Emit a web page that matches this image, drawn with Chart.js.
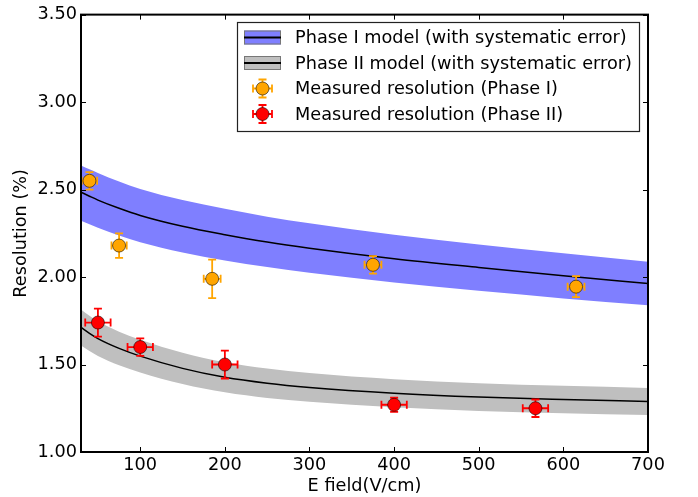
<!DOCTYPE html>
<html>
<head>
<meta charset="utf-8">
<script src="https://cdn.jsdelivr.net/npm/chart.js@4/dist/chart.umd.min.js"></script>
<style>
  html, body { margin: 0; padding: 0; background: #fff; }
  #resChart { display: block; }
</style>
</head>
<body>
<canvas id="resChart" width="698" height="497"></canvas>
<script>
// ------------------------------------------------------------
// Data
// ------------------------------------------------------------
const modelField = [30, 40, 50, 75, 100, 150, 200, 250, 300, 400, 500, 600, 700];

const phase1Model = [2.485, 2.462, 2.44, 2.393, 2.352, 2.29, 2.242, 2.20, 2.165, 2.105, 2.055, 2.008, 1.963];
const phase1Upper = [2.638, 2.616, 2.595, 2.546, 2.503, 2.44, 2.39, 2.345, 2.307, 2.242, 2.186, 2.136, 2.088];
const phase1Lower = [2.322, 2.302, 2.282, 2.238, 2.199, 2.14, 2.094, 2.057, 2.024, 1.969, 1.921, 1.878, 1.839];

const phase2Model = [1.712, 1.678, 1.648, 1.592, 1.548, 1.478, 1.427, 1.393, 1.369, 1.336, 1.314, 1.300, 1.289];
const phase2Upper = [1.815, 1.779, 1.747, 1.688, 1.641, 1.567, 1.513, 1.477, 1.451, 1.416, 1.393, 1.378, 1.366];
const phase2Lower = [1.609, 1.577, 1.549, 1.496, 1.455, 1.389, 1.341, 1.309, 1.287, 1.256, 1.235, 1.222, 1.212];

const phase1Field = [40, 75, 185, 375, 615];
const phase1Res = [2.55, 2.18, 1.99, 2.07, 1.945];
const phase1ErrRes = [0.05, 0.07, 0.11, 0.05, 0.06];
const phase1ErrField = [9, 9, 10, 10, 10];

const phase2Field = [50, 100, 200, 400, 567];
const phase2Res = [1.74, 1.60, 1.50, 1.27, 1.25];
const phase2ErrRes = [0.08, 0.05, 0.08, 0.04, 0.05];
const phase2ErrField = [15, 15, 15, 15, 15];

const xTicks = [100, 200, 300, 400, 500, 600, 700];
const yTicks = [1.0, 1.5, 2.0, 2.5, 3.0, 3.5];

const legendLabels = [
  "Phase I model (with systematic error)",
  "Phase II model (with systematic error)",
  "Measured resolution (Phase I)",
  "Measured resolution (Phase II)"
];

// ------------------------------------------------------------
// Helpers
// ------------------------------------------------------------
const FONT = "DejaVu Sans";
const FONT_SIZE = 17.7;
const BLUE_BAND = "rgb(127,127,255)";
const GREY_BAND = "rgb(191,191,191)";
const ORANGE = "#ffa500";
const RED = "#ff0000";

const toPoints = (xs, ys) => xs.map((x, i) => ({ x, y: ys[i] }));

function drawErrorBar(ctx, cx, cy, x0, x1, y0, y1, color, cap) {
  ctx.save();
  ctx.strokeStyle = color;
  ctx.lineWidth = 1.8;
  ctx.beginPath();
  // vertical bar + caps
  ctx.moveTo(cx, y0); ctx.lineTo(cx, y1);
  ctx.moveTo(cx - cap, y0); ctx.lineTo(cx + cap, y0);
  ctx.moveTo(cx - cap, y1); ctx.lineTo(cx + cap, y1);
  // horizontal bar + caps
  ctx.moveTo(x0, cy); ctx.lineTo(x1, cy);
  ctx.moveTo(x0, cy - cap); ctx.lineTo(x0, cy + cap);
  ctx.moveTo(x1, cy - cap); ctx.lineTo(x1, cy + cap);
  ctx.stroke();
  ctx.restore();
}

function drawMarker(ctx, x, y, r, fill) {
  ctx.save();
  ctx.beginPath();
  ctx.arc(x, y, r, 0, Math.PI * 2);
  ctx.fillStyle = fill;
  ctx.fill();
  ctx.lineWidth = 1;
  ctx.strokeStyle = "rgba(0,0,0,0.55)";
  ctx.stroke();
  ctx.restore();
}

// error bars for the measured points, drawn just under each marker set
const errorBarPlugin = {
  id: "errorBars",
  beforeDatasetDraw(chart, args) {
    const ds = chart.data.datasets[args.index];
    if (!ds.errX) return;
    const { ctx, chartArea } = chart;
    const xs = chart.scales.x, ys = chart.scales.y;
    ctx.save();
    ctx.beginPath();
    ctx.rect(chartArea.left, chartArea.top, chartArea.right - chartArea.left, chartArea.bottom - chartArea.top);
    ctx.clip();
    ds.data.forEach((p, i) => {
      drawErrorBar(ctx,
        xs.getPixelForValue(p.x), ys.getPixelForValue(p.y),
        xs.getPixelForValue(p.x - ds.errX[i]), xs.getPixelForValue(p.x + ds.errX[i]),
        ys.getPixelForValue(p.y + ds.errY[i]), ys.getPixelForValue(p.y - ds.errY[i]),
        ds.borderBarColor, 4);
    });
    ctx.restore();
  }
};

// box frame with inward tick marks on all four sides
const framePlugin = {
  id: "frame",
  afterDatasetsDraw(chart) {
    const { ctx, chartArea: a } = chart;
    const xs = chart.scales.x, ys = chart.scales.y;
    const tl = 5;
    ctx.save();
    ctx.strokeStyle = "#000";
    ctx.lineWidth = 1;
    ctx.beginPath();
    xTicks.forEach(v => {
      const px = Math.round(xs.getPixelForValue(v)) + 0.5;
      ctx.moveTo(px, a.bottom); ctx.lineTo(px, a.bottom - tl);
      ctx.moveTo(px, a.top); ctx.lineTo(px, a.top + tl);
    });
    yTicks.forEach(v => {
      const py = Math.round(ys.getPixelForValue(v)) + 0.5;
      ctx.moveTo(a.left, py); ctx.lineTo(a.left + tl, py);
      ctx.moveTo(a.right, py); ctx.lineTo(a.right - tl, py);
    });
    ctx.stroke();
    ctx.lineWidth = 2;
    ctx.strokeRect(a.left, a.top, a.right - a.left, a.bottom - a.top);
    ctx.restore();
  }
};

// legend box in the upper right corner
const legendPlugin = {
  id: "boxLegend",
  afterDraw(chart) {
    const ctx = chart.ctx;
    const left = 237, top = 22, w = 402, h = 109;
    const rowY = [37.5, 63, 88.5, 114];
    ctx.save();
    ctx.fillStyle = "#fff";
    ctx.fillRect(left, top, w, h);
    ctx.strokeStyle = "#222";
    ctx.lineWidth = 1.2;
    ctx.strokeRect(left + 0.5, top + 0.5, w, h);

    // band handles
    [BLUE_BAND, GREY_BAND].forEach((c, i) => {
      const y = rowY[i];
      ctx.fillStyle = c;
      ctx.fillRect(244, y - 7, 37, 14);
      ctx.strokeStyle = "#777";
      ctx.lineWidth = 1;
      ctx.strokeRect(244.5, y - 6.5, 36, 13);
      ctx.strokeStyle = "#000";
      ctx.lineWidth = 2;
      ctx.beginPath();
      ctx.moveTo(244, y); ctx.lineTo(281, y);
      ctx.stroke();
    });

    // marker handles
    [ORANGE, RED].forEach((c, i) => {
      const y = rowY[i + 2];
      drawErrorBar(ctx, 262.5, y, 253, 272, y - 9, y + 9, c, 4);
      drawMarker(ctx, 262.5, y, 6.5, c);
    });

    ctx.fillStyle = "#000";
    ctx.font = FONT_SIZE + "px '" + FONT + "'";
    ctx.textBaseline = "middle";
    ctx.textAlign = "left";
    legendLabels.forEach((t, i) => ctx.fillText(t, 295, rowY[i] + 1));
    ctx.restore();
  }
};

// ------------------------------------------------------------
// Chart
// ------------------------------------------------------------
const bandStyle = {
  type: "line",
  borderWidth: 0,
  pointRadius: 0,
  cubicInterpolationMode: "monotone",
  order: 3
};

new Chart(document.getElementById("resChart"), {
  type: "scatter",
  data: {
    datasets: [
      {
        label: "Measured resolution (Phase I)",
        data: toPoints(phase1Field, phase1Res),
        errX: phase1ErrField,
        errY: phase1ErrRes,
        borderBarColor: ORANGE,
        backgroundColor: ORANGE,
        borderColor: "rgba(0,0,0,0.55)",
        borderWidth: 1,
        pointRadius: 6.5,
        order: 0
      },
      {
        label: "Measured resolution (Phase II)",
        data: toPoints(phase2Field, phase2Res),
        errX: phase2ErrField,
        errY: phase2ErrRes,
        borderBarColor: RED,
        backgroundColor: RED,
        borderColor: "rgba(0,0,0,0.55)",
        borderWidth: 1,
        pointRadius: 6.5,
        order: 0
      },
      {
        type: "line",
        label: "Phase I model",
        data: toPoints(modelField, phase1Model),
        borderColor: "#000",
        borderWidth: 1.5,
        pointRadius: 0,
        cubicInterpolationMode: "monotone",
        fill: false,
        order: 1
      },
      {
        type: "line",
        label: "Phase II model",
        data: toPoints(modelField, phase2Model),
        borderColor: "#000",
        borderWidth: 1.5,
        pointRadius: 0,
        cubicInterpolationMode: "monotone",
        fill: false,
        order: 1
      },
      { ...bandStyle, label: "Phase I upper", data: toPoints(modelField, phase1Upper), backgroundColor: BLUE_BAND, fill: "+1" },
      { ...bandStyle, label: "Phase I lower", data: toPoints(modelField, phase1Lower), fill: false },
      { ...bandStyle, label: "Phase II upper", data: toPoints(modelField, phase2Upper), backgroundColor: GREY_BAND, fill: "+1" },
      { ...bandStyle, label: "Phase II lower", data: toPoints(modelField, phase2Lower), fill: false }
    ]
  },
  options: {
    responsive: false,
    animation: false,
    layout: { padding: { top: 14, right: 50, left: 0, bottom: 0 } },
    plugins: {
      legend: { display: false },
      tooltip: { enabled: false }
    },
    scales: {
      x: {
        type: "linear",
        min: 30,
        max: 700,
        grid: { display: false, drawTicks: false },
        border: { display: false },
        afterBuildTicks: scale => { scale.ticks = xTicks.map(v => ({ value: v })); },
        afterFit: scale => { scale.height = 45; },
        ticks: {
          color: "#000",
          padding: 3,
          maxRotation: 0,
          font: { family: FONT, size: FONT_SIZE }
        },
        title: {
          display: true,
          text: "E field(V/cm)",
          color: "#000",
          padding: { top: 0, bottom: 0 },
          font: { family: FONT, size: FONT_SIZE }
        }
      },
      y: {
        type: "linear",
        min: 1.0,
        max: 3.5,
        grid: { display: false, drawTicks: false },
        border: { display: false },
        afterBuildTicks: scale => { scale.ticks = yTicks.map(v => ({ value: v })); },
        afterFit: scale => { scale.width = 81; },
        ticks: {
          color: "#000",
          padding: 4,
          font: { family: FONT, size: FONT_SIZE },
          callback: v => Number(v).toFixed(2)
        },
        title: {
          display: true,
          text: "Resolution (%)",
          color: "#000",
          padding: { top: 11, bottom: 0 },
          font: { family: FONT, size: FONT_SIZE }
        }
      }
    }
  },
  plugins: [errorBarPlugin, framePlugin, legendPlugin]
});
</script>
</body>
</html>
